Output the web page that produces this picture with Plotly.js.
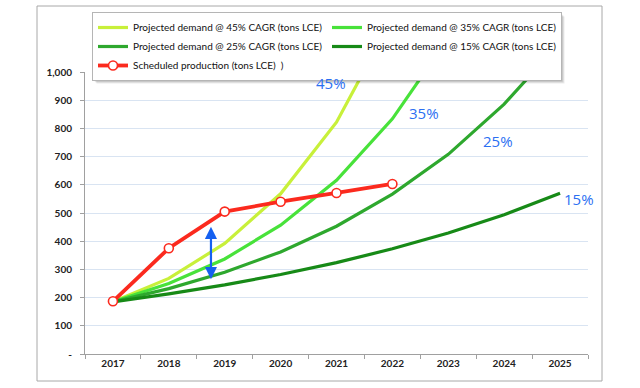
<!DOCTYPE html>
<html>
<head>
<meta charset="utf-8">
<script src="https://cdn.plot.ly/plotly-3.0.1.min.js"></script>
<style>html,body{margin:0;padding:0;background:#fff;}#chart{width:640px;height:388px;}</style>
</head>
<body>
<div id="chart"></div>
<script>
// ---- data ----
const years = ['2017','2018','2019','2020','2021','2022','2023','2024','2025'];
const demand45 = [185, 268, 392, 568, 822, 1190];
const demand35 = [185, 250, 337, 457, 616, 834, 1120];
const demand25 = [185, 232, 290, 362, 453, 567, 708, 886, 1105];
const demand15 = [185, 213, 245, 282, 324, 373, 429, 494, 570];
const production = [187, 375, 505, 540, 571, 603];
const seriesNames = [
  'Projected demand @ 45% CAGR (tons LCE)',
  'Projected demand @ 35% CAGR (tons LCE)',
  'Projected demand @ 25% CAGR (tons LCE)',
  'Projected demand @ 15% CAGR (tons LCE)',
  'Scheduled production (tons LCE)  )'
];
const rateLabels = ['45%', '35%', '25%', '15%'];
const rateLabelPos = [[3.9, 961], [5.57, 856], [6.89, 756], [8.34, 549]];
const gapArrow = {x: 1.754, from: 260, to: 451};
const yTicks = [0,100,200,300,400,500,600,700,800,900,1000];
const yTickText = ['-','100','200','300','400','500','600','700','800','900','1,000'];

// ---- styling ----
const FONT = 'Lato, "Open Sans", sans-serif';
const colors = ['#c8f03a', '#48e23a', '#2ea82e', '#178a17', '#fb2a1e'];
const demandSets = [demand45, demand35, demand25, demand15];

const traces = demandSets.map((vals, i) => ({
  type: 'scatter', mode: 'lines',
  x: years.slice(0, vals.length), y: vals,
  name: seriesNames[i],
  line: {color: colors[i], width: 3.2},
  hoverinfo: 'skip'
}));
traces.push({
  type: 'scatter', mode: 'lines+markers',
  x: years.slice(0, production.length), y: production,
  name: seriesNames[4],
  line: {color: colors[4], width: 3.8},
  marker: {symbol: 'circle', size: 9, color: '#ffffff', line: {color: colors[4], width: 1.6}},
  cliponaxis: false,
  hoverinfo: 'skip'
});

// plot area pixels: x 85..588, y 72..354
const L = 85, R = 588, T = 72, B = 354;
const px2x = p => (p - L) / (R - L);
const px2y = p => (B - p) / (B - T);

const annotations = rateLabels.map((t, i) => ({
  x: rateLabelPos[i][0], y: rateLabelPos[i][1], xref: 'x', yref: 'y',
  text: t, showarrow: false,
  font: {family: '"Open Sans", sans-serif', size: 15, color: '#2b6ff2'}
}));
annotations.push({
  x: gapArrow.x, y: gapArrow.to, ax: gapArrow.x, ay: gapArrow.from,
  xref: 'x', yref: 'y', axref: 'x', ayref: 'y',
  text: '', showarrow: true, arrowhead: 2, arrowside: 'end+start',
  arrowsize: 1.1, arrowwidth: 2.2, arrowcolor: '#1560f0', standoff: 0, startstandoff: 0
});

const frame = {type: 'rect', xref: 'paper', yref: 'paper', layer: 'below',
   x0: px2x(37), x1: px2x(602), y0: px2y(381), y1: px2y(6),
   line: {color: '#a8a8a8', width: 1}, fillcolor: 'rgba(0,0,0,0)'};

const layout = {
  width: 640, height: 388,
  margin: {l: L, r: 640 - R, t: T, b: 388 - B, pad: 0},
  paper_bgcolor: '#ffffff', plot_bgcolor: '#ffffff',
  font: {family: FONT, color: '#222'},
  showlegend: true,
  legend: {
    orientation: 'h', x: px2x(92), y: px2y(12), xanchor: 'left', yanchor: 'top',
    bgcolor: '#ffffff', bordercolor: '#b5b5b5', borderwidth: 1,
    font: {family: FONT, size: 10, color: '#111'},
    entrywidth: 189, traceorder: 'normal', itemwidth: 30
  },
  xaxis: {
    type: 'category', categoryorder: 'array', categoryarray: years,
    range: [-0.5, 8.5], showgrid: false, zeroline: false,
    showline: true, linecolor: '#a0a0a0', linewidth: 1,
    ticks: 'outside', tickson: 'boundaries', ticklen: 4, tickcolor: '#a0a0a0',
    tickfont: {family: FONT, size: 10, color: '#222', weight: 'bold'},
    fixedrange: true
  },
  yaxis: {
    range: [0, 1000], tickmode: 'array', tickvals: yTicks, ticktext: yTickText,
    showgrid: true, gridcolor: '#d9e4f2', gridwidth: 1, zeroline: false,
    showline: true, linecolor: '#a0a0a0', linewidth: 1,
    ticks: 'outside', ticklen: 4, tickcolor: '#a0a0a0', ticklabelstandoff: 6,
    tickfont: {family: FONT, size: 10, color: '#222', weight: 'bold'},
    fixedrange: true
  },
  annotations: annotations,
  shapes: [frame]
};

Plotly.newPlot('chart', traces, layout, {displayModeBar: false, staticPlot: true}).then(gd => {
  // soft drop shadow behind the legend box, sized from the drawn legend
  const bg = gd.querySelector('.legend .bg');
  if (!bg) return;
  const pr = gd.querySelector('.main-svg').getBoundingClientRect();
  const r = bg.getBoundingClientRect();
  const x0 = r.left - pr.left, y0 = r.top - pr.top, x1 = r.right - pr.left, y1 = r.bottom - pr.top;
  const sh = [];
  [[3, 0.08], [2, 0.10], [1, 0.10]].forEach(([o, a]) => {
    sh.push({type: 'rect', xref: 'paper', yref: 'paper', layer: 'above',
      x0: px2x(x0 + o + 1), x1: px2x(x1 + o), y0: px2y(y1 + o), y1: px2y(y0 + o + 1),
      line: {width: 0}, fillcolor: 'rgba(0,0,0,' + a + ')'});
  });
  return Plotly.relayout(gd, {shapes: [frame].concat(sh)});
});
</script>
</body>
</html>
